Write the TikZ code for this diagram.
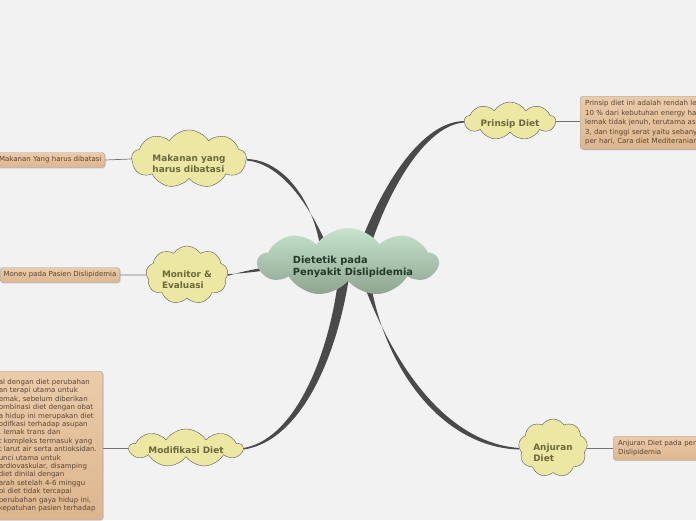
\documentclass[tikz,border=0pt]{standalone}
\usepackage{fontspec}
\setmainfont{DejaVu Sans}
\usepackage{tikz}
\usetikzlibrary{positioning, shapes.symbols, shadows, backgrounds, calc}
\definecolor{bgpage}{HTML}{F2F2F2}
\definecolor{cloudfill}{HTML}{ECE8A4}
\definecolor{cloudtext}{HTML}{6B683C}
\definecolor{ctrtop}{HTML}{C6E4CE}
\definecolor{ctrbot}{HTML}{8EA48F}
\definecolor{ctrtext}{HTML}{1F3A26}
\definecolor{notetop}{HTML}{EACBAA}
\definecolor{notebot}{HTML}{DDB68E}
\definecolor{notetext}{HTML}{5A4534}
\definecolor{trunkgray}{HTML}{4A4A4A}
\tikzset{
    central/.style={cloud, cloud ignores aspect, cloud puffs=9, cloud puff arc=110, draw=none, top color=ctrtop, bottom color=ctrbot},
    centraltext/.style={align=left, text=ctrtext, font=\bfseries\fontsize{9.8}{12}\selectfont, xshift=5pt, yshift=-5pt},
    topic/.style={cloud, cloud ignores aspect, cloud puffs=9, cloud puff arc=115, draw=black!65, fill=cloudfill},
    topictext/.style={align=left, text=cloudtext, font=\bfseries\fontsize{8.9}{11}\selectfont, yshift=-4.5pt},
    note/.style={draw=black!35, rounded corners=3pt, top color=notetop, bottom color=notebot, align=left, text=notetext, font=\fontsize{7}{8.4}\selectfont, drop shadow={opacity=0.25, shadow xshift=1pt, shadow yshift=-1pt}},
    trunk/.style={fill=trunkgray},
    twig/.style={draw=black!55, line width=0.7pt},
}
\begin{document}
\begin{tikzpicture}[x=1pt, y=-1pt]
    \useasboundingbox (0,0) rectangle (696,520);
    \clip (0,0) rectangle (696,520);
    % topics
    \node[central, minimum width=180pt, minimum height=68pt, label={[centraltext]center:Dietetik pada\\Penyakit Dislipidemia}] (ctr) at (348,262) {};
    \node[topic, minimum width=115pt, minimum height=58pt, label={[topictext]center:Makanan yang\\harus dibatasi}] (mak) at (189,159) {};
    \node[topic, minimum width=82pt, minimum height=58pt, label={[topictext]center:Monitor \&\\Evaluasi}] (mon) at (187,275) {};
    \node[topic, minimum width=113pt, minimum height=38pt, label={[topictext, yshift=2pt]center:Modifikasi Diet}] (mod) at (186,448) {};
    \node[topic, minimum width=91pt, minimum height=38pt, label={[topictext, yshift=1.5pt]center:Prinsip Diet}] (pri) at (510,121) {};
    \node[topic, minimum width=69pt, minimum height=58pt, label={[topictext]center:Anjuran\\Diet}] (anj) at (553,448) {};
    % notes
    \node[note, anchor=east, minimum height=15pt, inner ysep=2pt] (nmak) at (105,160) {Makanan Yang harus dibatasi};
    \node[note, anchor=east, minimum height=15pt, inner ysep=2pt] (nmon) at (120,275) {Monev pada Pasien Dislipidemia};
    \node[note, anchor=north east, text width=100pt, inner ysep=8pt, inner xsep=4pt] (nmod) at (103,371) {%
        al dengan diet perubahan\\an terapi utama untuk\\emak, sebelum diberikan\\ombinasi diet dengan obat\\a hidup ini merupakan diet\\odifkasi terhadap asupan\\, lemak trans dan\\t kompleks termasuk yang\\t larut air serta antioksidan.\\unci utama untuk\\ardiovaskular, disamping\\diet dinilai dengan\\arah setelah 4-6 minggu\\pi diet tidak tercapai\\perubahan gaya hidup ini,\\kepatuhan pasien terhadap};
    \node[note, anchor=north west, text width=120pt, minimum height=50pt, inner ysep=4pt, inner xsep=5pt, font=\fontsize{7}{9.6}\selectfont] (npri) at (580,96) {%
        Prinsip diet ini adalah rendah le\\10 \% dari kebutuhan energy ha\\lemak tidak jenuh, terutama as\\3, dan tinggi serat yaitu sebany\\per hari, Cara diet Mediteranian};
    \node[note, anchor=north west, text width=90pt, minimum height=24pt, inner ysep=3pt, inner xsep=5pt] (nanj) at (613,436) {Anjuran Diet pada pen\\Dislipidemia};
    % links and trunks
    \begin{scope}[on background layer]
        \fill[bgpage] (0,0) rectangle (696,520);
        \draw[twig] (mak.west) -- (nmak.east);
        \draw[twig] (mon.west) -- (nmon.east);
        \draw[twig] (mod.west) -- (nmod.east |- mod.west);
        \draw[twig] (pri.east) -- (npri.west |- pri.east);
        \draw[twig] (anj.east) -- (nanj.west |- anj.east);
        \fill[trunk] ($(ctr.center)+(-26,0)$) .. controls (318,205) and (285,160) .. (mak.east)
            -- ++(0,1.5) .. controls (282,164) and (312,206) .. ($(ctr.center)+(-14,0)$) -- cycle;
        \fill[trunk] ($(ctr.center)+(6,0)$) .. controls (372,205) and (415,122) .. (pri.west)
            -- ++(0,1.5) .. controls (420,126) and (380,208) .. ($(ctr.center)+(18,0)$) -- cycle;
        \fill[trunk] (mon.east) -- ++(0,-0.8) .. controls (245,273) .. ($(ctr.center)+(-70,7)$)
            -- ++(0,-4) .. controls (245,271) .. ($(mon.east)+(0,0.8)$) -- cycle;
        \fill[trunk] ($(ctr.center)+(-8,0)$) .. controls (334,340) and (300,438) .. (mod.east)
            -- ++(0,1.5) .. controls (306,440) and (342,342) .. ($(ctr.center)+(3,0)$) -- cycle;
        \fill[trunk] ($(ctr.center)+(8,0)$) .. controls (385,352) and (440,442) .. (anj.west)
            -- ++(0,1.5) .. controls (436,447) and (376,356) .. ($(ctr.center)+(20,0)$) -- cycle;
    \end{scope}
\end{tikzpicture}
\end{document}
